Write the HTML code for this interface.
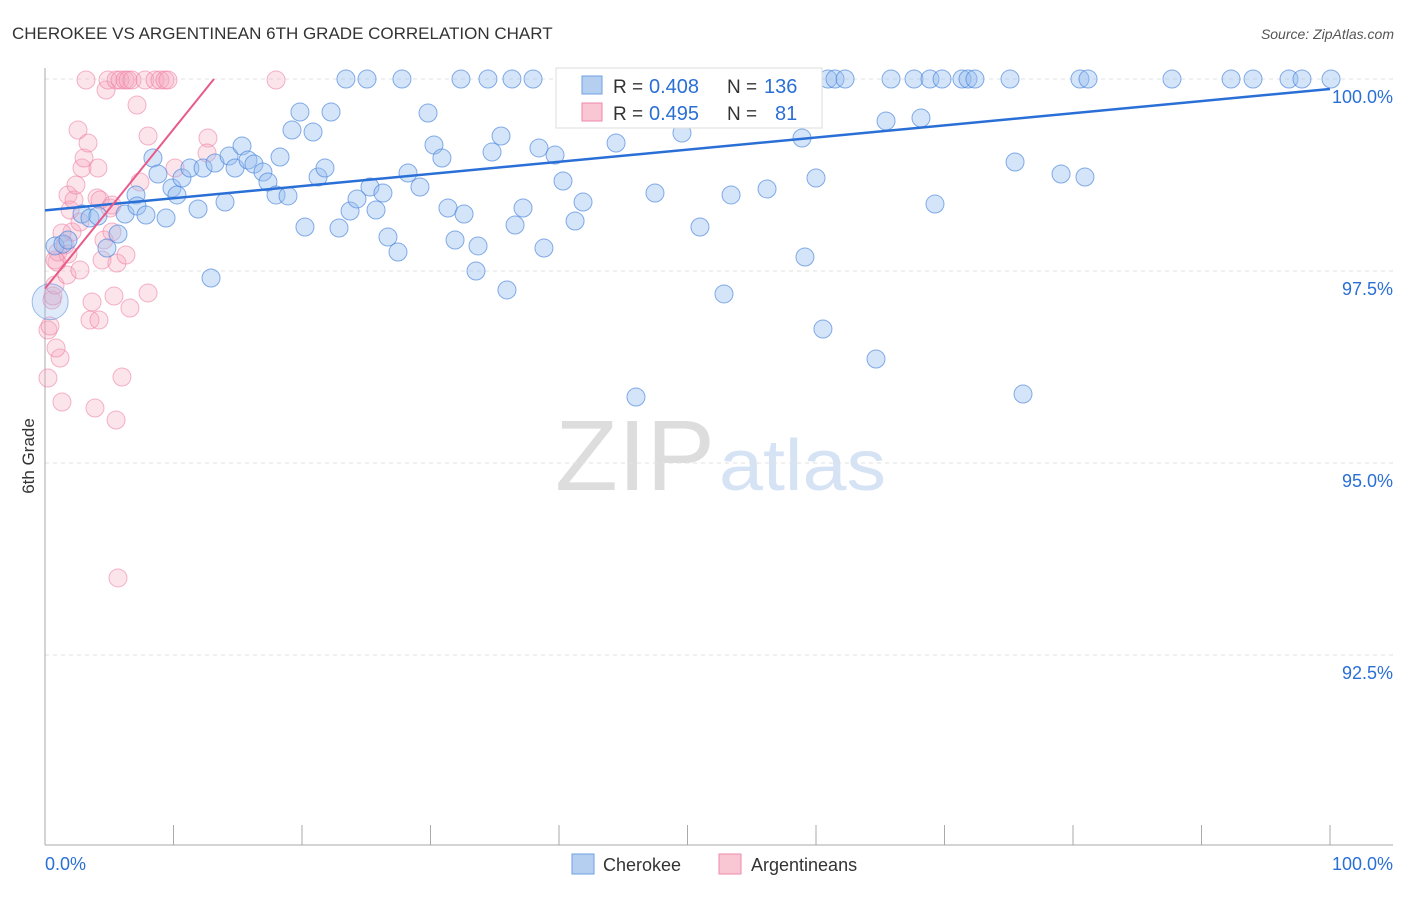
<!DOCTYPE html>
<html><head><meta charset="utf-8"><style>
body{margin:0;background:#fff;font-family:"Liberation Sans",sans-serif}
svg text{font-family:"Liberation Sans",sans-serif}
</style></head><body>
<svg id="c" width="1406" height="892" xmlns="http://www.w3.org/2000/svg">
<text x="12" y="39" font-size="17" fill="#333">CHEROKEE VS ARGENTINEAN 6TH GRADE CORRELATION CHART</text>
<text x="1394" y="39" font-size="14" fill="#555" font-style="italic" text-anchor="end">Source: ZipAtlas.com</text>
<text x="34" y="456" font-size="17" fill="#333" transform="rotate(-90 34 456)" text-anchor="middle">6th Grade</text>
<text x="555" y="490" font-size="100" fill="#ddd" textLength="160" lengthAdjust="spacingAndGlyphs" font-family="Liberation Serif">ZIP</text>
<text x="719" y="490" font-size="72" fill="#d5e3f5" textLength="167" lengthAdjust="spacingAndGlyphs">atlas</text>
<g id="grid"></g><g id="pts"></g><g id="lines"></g>
<g>
<rect x="556" y="68" width="266" height="60" fill="#fff" stroke="#ddd"/>
<rect x="582" y="76" width="20" height="18" fill="#b5cff0" stroke="#6f9fe0"/>
<text x="613" y="93" font-size="19" fill="#333">R =</text>
<text x="649" y="93" font-size="20" fill="#2a6fd6">0.408</text>
<text x="727" y="93" font-size="19" fill="#333">N =</text>
<text x="764" y="93" font-size="20" fill="#2a6fd6">136</text>
<rect x="582" y="103" width="20" height="18" fill="#f9c6d4" stroke="#ee8aa8"/>
<text x="613" y="120" font-size="19" fill="#333">R =</text>
<text x="649" y="120" font-size="20" fill="#2a6fd6">0.495</text>
<text x="727" y="120" font-size="19" fill="#333">N =</text>
<text x="775" y="120" font-size="20" fill="#2a6fd6">81</text>
</g>
<g>
<rect x="572" y="854" width="22" height="20" fill="#b5cff0" stroke="#6f9fe0"/>
<text x="603" y="871" font-size="18" fill="#333">Cherokee</text>
<rect x="719" y="854" width="22" height="20" fill="#f9c6d4" stroke="#ee8aa8"/>
<text x="751" y="871" font-size="18" fill="#333">Argentineans</text>
</g>
<text x="45" y="870" font-size="18" fill="#2a6fd6">0.0%</text>
<text x="1393" y="870" font-size="18" fill="#2a6fd6" text-anchor="end">100.0%</text>
</svg>
<script>
const yTicks=[100,97.5,95,92.5];
const yTickLabels=["100.0%","97.5%","95.0%","92.5%"];
const bluePx=[[55,246],[63,244],[68,240],[82,214],[90,218],[98,216],[107,248],[118,234],[125,214],[136,195],[137,206],[146,215],[153,158],[158,174],[166,218],[172,188],[177,195],[182,178],[190,168],[198,209],[203,168],[211,278],[215,163],[225,202],[229,156],[235,168],[242,146],[248,160],[254,164],[263,172],[268,182],[276,195],[280,157],[288,196],[292,130],[300,112],[305,227],[313,132],[318,177],[325,168],[331,112],[339,228],[346,79],[350,211],[357,199],[367,79],[370,187],[376,210],[383,193],[388,237],[398,252],[402,79],[408,173],[420,187],[428,113],[434,145],[442,158],[448,208],[455,240],[461,79],[464,214],[476,271],[478,246],[488,79],[492,152],[501,136],[507,290],[512,79],[515,225],[523,208],[533,79],[539,148],[544,248],[555,155],[563,181],[575,221],[583,202],[600,79],[616,143],[636,397],[645,79],[655,193],[673,79],[682,133],[700,227],[715,79],[724,294],[731,195],[747,79],[767,189],[790,79],[802,138],[805,257],[816,178],[823,329],[828,79],[835,79],[845,79],[876,359],[886,121],[891,79],[914,79],[921,118],[930,79],[935,204],[942,79],[962,79],[968,79],[975,79],[1010,79],[1015,162],[1023,394],[1061,174],[1080,79],[1085,177],[1088,79],[1172,79],[1231,79],[1253,79],[1289,79],[1302,79],[1331,79],[620,79],[660,79],[700,79]];
const pinkPx=[[48,378],[48,330],[50,326],[52,300],[53,296],[55,285],[57,262],[58,252],[60,358],[62,402],[65,245],[67,275],[68,254],[68,195],[70,210],[72,232],[74,200],[76,185],[78,130],[80,222],[82,168],[84,158],[86,80],[88,143],[90,320],[92,302],[95,408],[97,198],[98,168],[99,320],[102,260],[104,240],[106,90],[108,80],[110,208],[112,232],[114,296],[116,80],[116,420],[117,263],[118,578],[120,80],[122,377],[125,80],[126,255],[128,80],[130,308],[132,80],[137,105],[140,182],[145,80],[148,293],[148,136],[155,80],[160,80],[165,80],[168,80],[175,168],[208,138],[207,153],[276,80],[56,348],[62,233],[55,260],[80,270],[100,200],[112,205]];
const blueX=bluePx.map(p=>+((p[0]-45)/12.85).toFixed(2)), blueY=bluePx.map(p=>+(100-(p[1]-79)/76.8).toFixed(3));
const pinkX=pinkPx.map(p=>+((p[0]-45)/12.85).toFixed(2)), pinkY=pinkPx.map(p=>+(100-(p[1]-79)/76.8).toFixed(3));
const blueTrend=[[0,98.29],[100,99.87]];
const pinkTrend=[[0,97.27],[13.15,100]];
const X=v=>45+v*12.85, Y=v=>79+(100-v)*76.8;
const NS="http://www.w3.org/2000/svg";
function mk(t,a,parent){const e=document.createElementNS(NS,t);for(const k in a)e.setAttribute(k,a[k]);parent.appendChild(e);return e;}
const grid=document.getElementById('grid');
yTicks.forEach((t,i)=>{
 const l=mk('line',{x1:45,x2:1393,y1:Y(t),y2:Y(t),stroke:'#e2e2e2','stroke-dasharray':'4,4'},grid);
 
 
 const tx=mk('text',{x:1393,y:Y(t)+24,'font-size':18,fill:'#2a6fd6','text-anchor':'end'},grid);
 tx.textContent=yTickLabels[i];
 
 
});
const ax=mk('line',{x1:45,x2:45,y1:68,y2:845,stroke:'#aaa'},grid);


const bx=mk('line',{x1:45,x2:1393,y1:845,y2:845,stroke:'#aaa'},grid);


for(let i=0;i<=10;i++){const t=mk('line',{x1:45+i*128.5,x2:45+i*128.5,y1:825,y2:845,stroke:'#aaa'},grid);
 
 }
const pts=document.getElementById('pts');
pinkX.forEach((x,i)=>{const c=mk('circle',{cx:X(x),cy:Y(pinkY[i]),r:9,fill:'rgba(246,165,190,0.3)',stroke:'rgba(236,120,160,0.55)'},pts);
 
 });
blueX.forEach((x,i)=>{const c=mk('circle',{cx:X(x),cy:Y(blueY[i]),r:9,fill:'rgba(150,190,240,0.4)',stroke:'rgba(70,130,220,0.65)'},pts);
 
 });
const big=mk('circle',{cx:X(0.4),cy:Y(97.1),r:18,fill:'rgba(150,190,240,0.3)',stroke:'rgba(70,130,220,0.5)'},pts);


const lines=document.getElementById('lines');
const bl=mk('line',{x1:X(blueTrend[0][0]),y1:Y(blueTrend[0][1]),x2:X(blueTrend[1][0]),y2:Y(blueTrend[1][1]),stroke:'#2a6fd6','stroke-width':2.5},lines);


const pl=mk('line',{x1:X(pinkTrend[0][0]),y1:Y(pinkTrend[0][1]),x2:X(pinkTrend[1][0]),y2:Y(pinkTrend[1][1]),stroke:'#e85a8a','stroke-width':2},lines);


</script>
</body></html>
